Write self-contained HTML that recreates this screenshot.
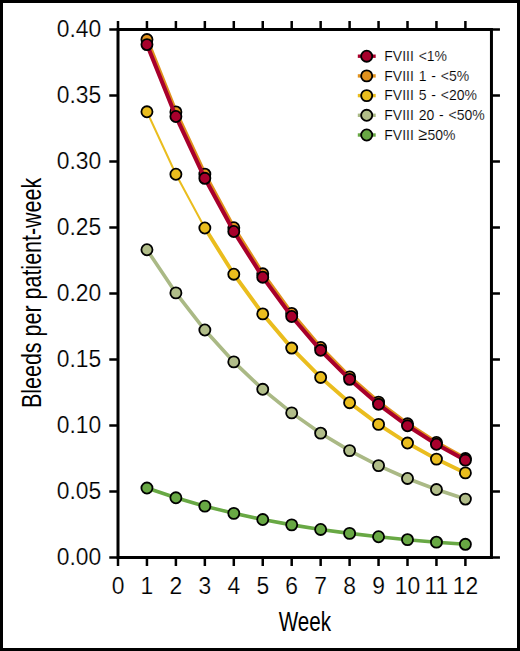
<!DOCTYPE html>
<html><head><meta charset="utf-8"><style>
html,body{margin:0;padding:0;background:#fff;}
body{width:520px;height:651px;overflow:hidden;}
.wrap{position:relative;width:520px;height:651px;box-sizing:border-box;border:3px solid #000;background:#fff;}
svg{position:absolute;left:-3px;top:-3px;}
text{font-family:"Liberation Sans",sans-serif;fill:#000;}
.t{font-size:24.70px;stroke:#fff;stroke-width:0.2px;}
.ti{font-size:27.5px;}
.lg{font-size:15px;word-spacing:1px;stroke:#fff;stroke-width:0.15px;}
</style></head><body><div class="wrap">
<svg width="520" height="651" viewBox="0 0 520 651">
<g stroke="#000" fill="none" stroke-linecap="butt">
<path d="M118.00,29.40 H491.45 V557.50 H118.00 Z" stroke-width="3"/>
<path d="M109.30,29.40 H118.00 M491.45,29.40 H499.95 M109.30,95.41 H118.00 M491.45,95.41 H499.95 M109.30,161.43 H118.00 M491.45,161.43 H499.95 M109.30,227.44 H118.00 M491.45,227.44 H499.95 M109.30,293.45 H118.00 M491.45,293.45 H499.95 M109.30,359.46 H118.00 M491.45,359.46 H499.95 M109.30,425.48 H118.00 M491.45,425.48 H499.95 M109.30,491.49 H118.00 M491.45,491.49 H499.95 M109.30,557.50 H118.00 M491.45,557.50 H499.95 M118.00,557.50 V566.00 M118.00,29.40 V21.00 M146.95,557.50 V566.00 M146.95,29.40 V21.00 M175.90,557.50 V566.00 M175.90,29.40 V21.00 M204.85,557.50 V566.00 M204.85,29.40 V21.00 M233.80,557.50 V566.00 M233.80,29.40 V21.00 M262.75,557.50 V566.00 M262.75,29.40 V21.00 M291.70,557.50 V566.00 M291.70,29.40 V21.00 M320.65,557.50 V566.00 M320.65,29.40 V21.00 M349.60,557.50 V566.00 M349.60,29.40 V21.00 M378.55,557.50 V566.00 M378.55,29.40 V21.00 M407.50,557.50 V566.00 M407.50,29.40 V21.00 M436.45,557.50 V566.00 M436.45,29.40 V21.00 M465.40,557.50 V566.00 M465.40,29.40 V21.00" stroke-width="2.5"/>
</g>
<path d="M146.95,488.05 L175.90,497.79 L204.85,506.16 L233.80,513.36 L262.75,519.55 L291.70,524.87 L320.65,529.44 L349.60,533.38 L378.55,536.76 L407.50,539.67 L436.45,542.17 L465.40,544.32" stroke="#68a844" stroke-width="3.60" fill="none"/>
<circle cx="146.95" cy="488.05" r="5.55" fill="#68a844" stroke="#000" stroke-width="1.80"/>
<circle cx="175.90" cy="497.79" r="5.55" fill="#68a844" stroke="#000" stroke-width="1.80"/>
<circle cx="204.85" cy="506.16" r="5.55" fill="#68a844" stroke="#000" stroke-width="1.80"/>
<circle cx="233.80" cy="513.36" r="5.55" fill="#68a844" stroke="#000" stroke-width="1.80"/>
<circle cx="262.75" cy="519.55" r="5.55" fill="#68a844" stroke="#000" stroke-width="1.80"/>
<circle cx="291.70" cy="524.87" r="5.55" fill="#68a844" stroke="#000" stroke-width="1.80"/>
<circle cx="320.65" cy="529.44" r="5.55" fill="#68a844" stroke="#000" stroke-width="1.80"/>
<circle cx="349.60" cy="533.38" r="5.55" fill="#68a844" stroke="#000" stroke-width="1.80"/>
<circle cx="378.55" cy="536.76" r="5.55" fill="#68a844" stroke="#000" stroke-width="1.80"/>
<circle cx="407.50" cy="539.67" r="5.55" fill="#68a844" stroke="#000" stroke-width="1.80"/>
<circle cx="436.45" cy="542.17" r="5.55" fill="#68a844" stroke="#000" stroke-width="1.80"/>
<circle cx="465.40" cy="544.32" r="5.55" fill="#68a844" stroke="#000" stroke-width="1.80"/>
<path d="M146.95,249.75 L175.90,292.90 L204.85,329.99 L233.80,361.89 L262.75,389.31 L291.70,412.89 L320.65,433.17 L349.60,450.60 L378.55,465.59 L407.50,478.47 L436.45,489.55 L465.40,499.08" stroke="#aab985" stroke-width="3.60" fill="none"/>
<circle cx="146.95" cy="249.75" r="5.55" fill="#b1bd89" stroke="#000" stroke-width="1.80"/>
<circle cx="175.90" cy="292.90" r="5.55" fill="#b1bd89" stroke="#000" stroke-width="1.80"/>
<circle cx="204.85" cy="329.99" r="5.55" fill="#b1bd89" stroke="#000" stroke-width="1.80"/>
<circle cx="233.80" cy="361.89" r="5.55" fill="#b1bd89" stroke="#000" stroke-width="1.80"/>
<circle cx="262.75" cy="389.31" r="5.55" fill="#b1bd89" stroke="#000" stroke-width="1.80"/>
<circle cx="291.70" cy="412.89" r="5.55" fill="#b1bd89" stroke="#000" stroke-width="1.80"/>
<circle cx="320.65" cy="433.17" r="5.55" fill="#b1bd89" stroke="#000" stroke-width="1.80"/>
<circle cx="349.60" cy="450.60" r="5.55" fill="#b1bd89" stroke="#000" stroke-width="1.80"/>
<circle cx="378.55" cy="465.59" r="5.55" fill="#b1bd89" stroke="#000" stroke-width="1.80"/>
<circle cx="407.50" cy="478.47" r="5.55" fill="#b1bd89" stroke="#000" stroke-width="1.80"/>
<circle cx="436.45" cy="489.55" r="5.55" fill="#b1bd89" stroke="#000" stroke-width="1.80"/>
<circle cx="465.40" cy="499.08" r="5.55" fill="#b1bd89" stroke="#000" stroke-width="1.80"/>
<path d="M146.95,111.78 L175.90,174.27 L204.85,228.00" stroke="#eabd1e" stroke-width="2.00" fill="none"/>
<path d="M204.85,228.00 L233.80,274.20 L262.75,313.92 L291.70,348.07 L320.65,377.43 L349.60,402.68 L378.55,424.38 L407.50,443.04 L436.45,459.09 L465.40,472.89" stroke="#eabd1e" stroke-width="3.90" fill="none"/>
<circle cx="146.95" cy="111.78" r="5.55" fill="#eabd1e" stroke="#000" stroke-width="1.80"/>
<circle cx="175.90" cy="174.27" r="5.55" fill="#eabd1e" stroke="#000" stroke-width="1.80"/>
<circle cx="204.85" cy="228.00" r="5.55" fill="#eabd1e" stroke="#000" stroke-width="1.80"/>
<circle cx="233.80" cy="274.20" r="5.55" fill="#eabd1e" stroke="#000" stroke-width="1.80"/>
<circle cx="262.75" cy="313.92" r="5.55" fill="#eabd1e" stroke="#000" stroke-width="1.80"/>
<circle cx="291.70" cy="348.07" r="5.55" fill="#eabd1e" stroke="#000" stroke-width="1.80"/>
<circle cx="320.65" cy="377.43" r="5.55" fill="#eabd1e" stroke="#000" stroke-width="1.80"/>
<circle cx="349.60" cy="402.68" r="5.55" fill="#eabd1e" stroke="#000" stroke-width="1.80"/>
<circle cx="378.55" cy="424.38" r="5.55" fill="#eabd1e" stroke="#000" stroke-width="1.80"/>
<circle cx="407.50" cy="443.04" r="5.55" fill="#eabd1e" stroke="#000" stroke-width="1.80"/>
<circle cx="436.45" cy="459.09" r="5.55" fill="#eabd1e" stroke="#000" stroke-width="1.80"/>
<circle cx="465.40" cy="472.89" r="5.55" fill="#eabd1e" stroke="#000" stroke-width="1.80"/>
<path d="M146.95,39.57 L175.90,111.92 L204.85,174.17 L233.80,227.72 L262.75,273.79 L291.70,313.42 L320.65,347.52 L349.60,376.86 L378.55,402.09 L407.50,423.80 L436.45,442.48 L465.40,458.55" stroke="#e0921e" stroke-width="4.10" fill="none"/>
<circle cx="146.95" cy="39.57" r="5.55" fill="#e0921e" stroke="#000" stroke-width="1.80"/>
<circle cx="175.90" cy="111.92" r="5.55" fill="#e0921e" stroke="#000" stroke-width="1.80"/>
<circle cx="204.85" cy="174.17" r="5.55" fill="#e0921e" stroke="#000" stroke-width="1.80"/>
<circle cx="233.80" cy="227.72" r="5.55" fill="#e0921e" stroke="#000" stroke-width="1.80"/>
<circle cx="262.75" cy="273.79" r="5.55" fill="#e0921e" stroke="#000" stroke-width="1.80"/>
<circle cx="291.70" cy="313.42" r="5.55" fill="#e0921e" stroke="#000" stroke-width="1.80"/>
<circle cx="320.65" cy="347.52" r="5.55" fill="#e0921e" stroke="#000" stroke-width="1.80"/>
<circle cx="349.60" cy="376.86" r="5.55" fill="#e0921e" stroke="#000" stroke-width="1.80"/>
<circle cx="378.55" cy="402.09" r="5.55" fill="#e0921e" stroke="#000" stroke-width="1.80"/>
<circle cx="407.50" cy="423.80" r="5.55" fill="#e0921e" stroke="#000" stroke-width="1.80"/>
<circle cx="436.45" cy="442.48" r="5.55" fill="#e0921e" stroke="#000" stroke-width="1.80"/>
<circle cx="465.40" cy="458.55" r="5.55" fill="#e0921e" stroke="#000" stroke-width="1.80"/>
<path d="M146.95,44.58 L175.90,116.49 L204.85,178.32 L233.80,231.48 L262.75,277.19 L291.70,316.49 L320.65,350.28 L349.60,379.33 L378.55,404.31 L407.50,425.79 L436.45,444.25 L465.40,460.13" stroke="#a8002c" stroke-width="4.10" fill="none"/>
<circle cx="146.95" cy="44.58" r="5.55" fill="#a8002c" stroke="#000" stroke-width="1.80"/>
<circle cx="175.90" cy="116.49" r="5.55" fill="#a8002c" stroke="#000" stroke-width="1.80"/>
<circle cx="204.85" cy="178.32" r="5.55" fill="#a8002c" stroke="#000" stroke-width="1.80"/>
<circle cx="233.80" cy="231.48" r="5.55" fill="#a8002c" stroke="#000" stroke-width="1.80"/>
<circle cx="262.75" cy="277.19" r="5.55" fill="#a8002c" stroke="#000" stroke-width="1.80"/>
<circle cx="291.70" cy="316.49" r="5.55" fill="#a8002c" stroke="#000" stroke-width="1.80"/>
<circle cx="320.65" cy="350.28" r="5.55" fill="#a8002c" stroke="#000" stroke-width="1.80"/>
<circle cx="349.60" cy="379.33" r="5.55" fill="#a8002c" stroke="#000" stroke-width="1.80"/>
<circle cx="378.55" cy="404.31" r="5.55" fill="#a8002c" stroke="#000" stroke-width="1.80"/>
<circle cx="407.50" cy="425.79" r="5.55" fill="#a8002c" stroke="#000" stroke-width="1.80"/>
<circle cx="436.45" cy="444.25" r="5.55" fill="#a8002c" stroke="#000" stroke-width="1.80"/>
<circle cx="465.40" cy="460.13" r="5.55" fill="#a8002c" stroke="#000" stroke-width="1.80"/>
<text text-anchor="end" class="t" transform="translate(101.2,36.60) scale(0.925,1)">0.40</text>
<text text-anchor="end" class="t" transform="translate(101.2,102.61) scale(0.925,1)">0.35</text>
<text text-anchor="end" class="t" transform="translate(101.2,168.62) scale(0.925,1)">0.30</text>
<text text-anchor="end" class="t" transform="translate(101.2,234.64) scale(0.925,1)">0.25</text>
<text text-anchor="end" class="t" transform="translate(101.2,300.65) scale(0.925,1)">0.20</text>
<text text-anchor="end" class="t" transform="translate(101.2,366.66) scale(0.925,1)">0.15</text>
<text text-anchor="end" class="t" transform="translate(101.2,432.68) scale(0.925,1)">0.10</text>
<text text-anchor="end" class="t" transform="translate(101.2,498.69) scale(0.925,1)">0.05</text>
<text text-anchor="end" class="t" transform="translate(101.2,564.70) scale(0.925,1)">0.00</text>
<text text-anchor="middle" class="t" transform="translate(118.00,593.6) scale(0.925,1)">0</text>
<text text-anchor="middle" class="t" transform="translate(146.95,593.6) scale(0.925,1)">1</text>
<text text-anchor="middle" class="t" transform="translate(175.90,593.6) scale(0.925,1)">2</text>
<text text-anchor="middle" class="t" transform="translate(204.85,593.6) scale(0.925,1)">3</text>
<text text-anchor="middle" class="t" transform="translate(233.80,593.6) scale(0.925,1)">4</text>
<text text-anchor="middle" class="t" transform="translate(262.75,593.6) scale(0.925,1)">5</text>
<text text-anchor="middle" class="t" transform="translate(291.70,593.6) scale(0.925,1)">6</text>
<text text-anchor="middle" class="t" transform="translate(320.65,593.6) scale(0.925,1)">7</text>
<text text-anchor="middle" class="t" transform="translate(349.60,593.6) scale(0.925,1)">8</text>
<text text-anchor="middle" class="t" transform="translate(378.55,593.6) scale(0.925,1)">9</text>
<text text-anchor="middle" class="t" transform="translate(407.50,593.6) scale(0.925,1)">10</text>
<text text-anchor="middle" class="t" transform="translate(436.45,593.6) scale(0.925,1)">11</text>
<text text-anchor="middle" class="t" transform="translate(465.40,593.6) scale(0.925,1)">12</text>
<text x="304.8" y="631.3" text-anchor="middle" class="ti" transform="translate(304.8,0) scale(0.75,1) translate(-304.8,0)">Week</text>
<g transform="translate(41.4,292.9) rotate(-90)"><text x="0" y="0" text-anchor="middle" class="ti" transform="scale(0.781,1)">Bleeds per patient-week</text></g>
<path d="M357.8,56.20 H375.7" stroke="#a8002c" stroke-width="3.4"/>
<circle cx="366.7" cy="56.20" r="5.55" fill="#a8002c" stroke="#000" stroke-width="1.80"/>
<text class="lg" transform="translate(384.3,61.00) scale(0.933,1)">FVIII &lt;1%</text>
<path d="M357.8,75.90 H375.7" stroke="#e0921e" stroke-width="3.4"/>
<circle cx="366.7" cy="75.90" r="5.55" fill="#e0921e" stroke="#000" stroke-width="1.80"/>
<text class="lg" transform="translate(384.3,80.70) scale(0.933,1)">FVIII 1 - &lt;5%</text>
<path d="M357.8,95.60 H375.7" stroke="#eabd1e" stroke-width="3.4"/>
<circle cx="366.7" cy="95.60" r="5.55" fill="#eabd1e" stroke="#000" stroke-width="1.80"/>
<text class="lg" transform="translate(384.3,100.40) scale(0.933,1)">FVIII 5 - &lt;20%</text>
<path d="M357.8,115.30 H375.7" stroke="#aab985" stroke-width="3.4"/>
<circle cx="366.7" cy="115.30" r="5.55" fill="#b1bd89" stroke="#000" stroke-width="1.80"/>
<text class="lg" transform="translate(384.3,120.10) scale(0.933,1)">FVIII 20 - &lt;50%</text>
<path d="M357.8,135.00 H375.7" stroke="#68a844" stroke-width="3.4"/>
<circle cx="366.7" cy="135.00" r="5.55" fill="#68a844" stroke="#000" stroke-width="1.80"/>
<text class="lg" transform="translate(384.3,139.80) scale(0.933,1)">FVIII <tspan dx="-0.5" style="font-size:17.5px">≥</tspan><tspan dx="0.3">50%</tspan></text>
</svg></div></body></html>
